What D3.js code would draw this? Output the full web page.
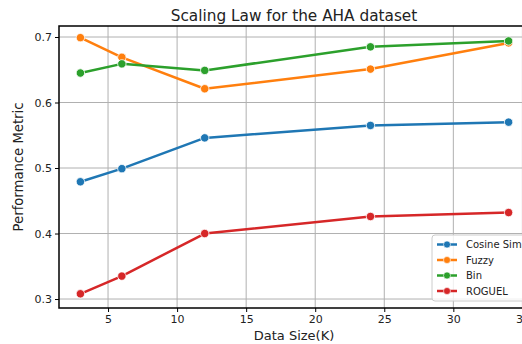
<!DOCTYPE html>
<html><head><meta charset="utf-8">
<script src="https://cdn.jsdelivr.net/npm/d3@7"></script>
<style>html,body{margin:0;padding:0;background:#fff;overflow:hidden}svg{display:block;font-family:"DejaVu Sans",sans-serif}</style>
</head><body>
<svg id="chart" width="522" height="344"></svg>
<script>
const dataSizes = [3, 6, 12, 24, 34];
const cosineSim = [0.479, 0.499, 0.546, 0.565, 0.570];
const fuzzy = [0.699, 0.669, 0.621, 0.651, 0.691];
const bin = [0.645, 0.659, 0.649, 0.685, 0.694];
const roguel = [0.308, 0.335, 0.400, 0.426, 0.432];
const seriesNames = ["Cosine Sim", "Fuzzy", "Bin", "ROGUEL"];
const seriesColors = ["#1f77b4", "#ff7f0e", "#2ca02c", "#d62728"];
const xTicks = [5, 10, 15, 20, 25, 30, 35];
const yTicks = [0.3, 0.4, 0.5, 0.6, 0.7];

const series = [cosineSim, fuzzy, bin, roguel].map((v, i) => ({name: seriesNames[i], color: seriesColors[i], values: v}));

const svg = d3.select("#chart");
const L = 59, T = 26, R = 530, B = 308;
const x = d3.scaleLinear().domain([1.45, 35.55]).range([L, R]);
const y = d3.scaleLinear().domain([0.2863, 0.7168]).range([B, T]);

// grid
svg.append("g").selectAll("line").data(xTicks).join("line")
  .attr("x1", d => x(d)).attr("x2", d => x(d)).attr("y1", T).attr("y2", B)
  .attr("stroke", "#b0b0b0").attr("stroke-width", 1);
svg.append("g").selectAll("line").data(yTicks).join("line")
  .attr("x1", L).attr("x2", R).attr("y1", d => y(d)).attr("y2", d => y(d))
  .attr("stroke", "#b0b0b0").attr("stroke-width", 1);

// lines
const line = d3.line().x((d, i) => x(dataSizes[i])).y(d => y(d));
const g = svg.append("g");
series.forEach(s => {
  g.append("path").datum(s.values).attr("d", line).attr("fill", "none")
    .attr("stroke", s.color).attr("stroke-width", 2.5).attr("stroke-linejoin", "round").attr("stroke-linecap", "round");
  g.selectAll(null).data(s.values).join("circle")
    .attr("cx", (d, i) => x(dataSizes[i])).attr("cy", d => y(d)).attr("r", 4.2)
    .attr("fill", s.color).attr("stroke", "#fff").attr("stroke-width", 0.8);
});

// axes
const xAxis = d3.axisBottom(x).tickValues(xTicks).tickSize(4).tickPadding(3).tickFormat(d3.format("d"));
const yAxis = d3.axisLeft(y).tickValues(yTicks).tickSize(4).tickPadding(3).tickFormat(d3.format(".1f"));
const gx = svg.append("g").attr("transform", `translate(0,${B})`).call(xAxis);
const gy = svg.append("g").attr("transform", `translate(${L},0)`).call(yAxis);
[gx, gy].forEach(a => {
  a.select(".domain").remove();
  a.selectAll("text").attr("font-size", 11).attr("fill", "#222").attr("font-family", "DejaVu Sans");
  a.selectAll("line").attr("stroke", "#000").attr("stroke-width", 1);
});
// spines
svg.append("rect").attr("x", L).attr("y", T).attr("width", R - L).attr("height", B - T)
  .attr("fill", "none").attr("stroke", "#000").attr("stroke-width", 1.5);

// labels
svg.append("text").attr("x", 294).attr("y", 21).attr("text-anchor", "middle")
  .attr("font-size", 15.3).attr("fill", "#222").text("Scaling Law for the AHA dataset");
svg.append("text").attr("x", 294).attr("y", 340).attr("text-anchor", "middle")
  .attr("font-size", 13).attr("fill", "#222").text("Data Size(K)");
svg.append("text").attr("transform", `translate(23,${(T + B) / 2}) rotate(-90)`).attr("text-anchor", "middle")
  .attr("font-size", 13.2).attr("fill", "#222").text("Performance Metric");

// legend
const lg = svg.append("g").attr("transform", "translate(432,235)");
lg.append("rect").attr("width", 94).attr("height", 66).attr("rx", 3)
  .attr("fill", "#fff").attr("fill-opacity", 0.8).attr("stroke", "#ccc").attr("stroke-width", 1);
series.forEach((s, i) => {
  const yy = 9.5 + i * 15.5;
  lg.append("line").attr("x1", 5).attr("x2", 25).attr("y1", yy).attr("y2", yy)
    .attr("stroke", s.color).attr("stroke-width", 2.5);
  lg.append("circle").attr("cx", 15).attr("cy", yy).attr("r", 3.5).attr("fill", s.color)
    .attr("stroke", "#fff").attr("stroke-width", 0.6);
  lg.append("text").attr("x", 34).attr("y", yy + 3.5).attr("font-size", 10).attr("fill", "#222").text(s.name);
});
</script>
</body></html>
